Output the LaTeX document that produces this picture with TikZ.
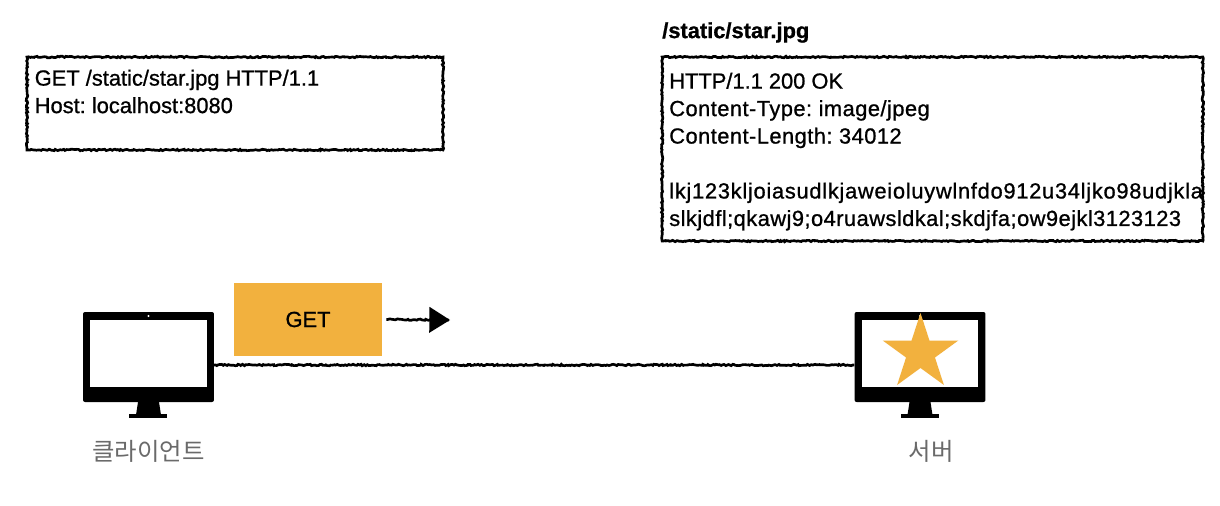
\documentclass[tikz,border=0pt]{standalone}
\usepackage{fontspec}
\setmainfont[FakeBold=0.9]{Liberation Sans}
\newfontfamily\widefont[FakeBold=0.9, LetterSpace=2.1]{Liberation Sans}
\newfontfamily\widerfont[FakeBold=0.9, LetterSpace=3.3]{Liberation Sans}
\newfontfamily\krfont{Noto Sans CJK KR}
\usetikzlibrary{arrows.meta,decorations.pathmorphing,shapes.geometric}
\definecolor{getorange}{HTML}{F2B13E}
\definecolor{labelgray}{HTML}{6A6A6A}
\tikzset{
    rough/.style={decorate, decoration={random steps, segment length=1.2pt, amplitude=0.55pt, pre length=1pt, post length=1pt}},
    msgbox/.style={draw, line width=2pt, rough, rectangle, inner sep=0pt},
    msgtext/.style={anchor=north west, align=left, inner sep=0pt, font=\frenchspacing\fontsize{16.4}{20.6}\selectfont},
    body/.style={rectangle, fill=black, rounded corners=1.5pt, minimum width=98.2pt, minimum height=67.5pt, inner sep=0pt},
    screen/.style={rectangle, fill=white, minimum width=87.6pt, minimum height=49.9pt, inner sep=0pt},
    hostlabel/.style={text=labelgray, font=\krfont\fontsize{18.3}{20}\selectfont, inner sep=0pt}
}
\begin{document}
\begin{tikzpicture}[x=0.75pt, y=-0.75pt]
    \useasboundingbox (0,0) rectangle (1220,506);

    % Request message
    \node[msgbox, minimum width=312pt, minimum height=69.7pt] (reqbox) at (235,103.5) {};
    \node[msgtext] (reqtext) at (34.5,69.5) {GET /static/star.jpg HTTP/1.1\\Host: localhost:8080};

    % Response message
    \node[anchor=west, inner sep=0pt, font=\bfseries\fontsize{16.4}{18}\selectfont] (restitle) at (662,32.5) {/static/star.jpg};
    \node[msgbox, minimum width=405.5pt, minimum height=138pt] (resbox) at (932.5,149) {};
    \node[msgtext] (restext) at (669,72.5) {HTTP/1.1 200 OK\\{\widefont Content-Type: image/jpeg}\\{\widefont Content-Length: 34012}\\[20.6pt]{\widerfont lkj123kljoiasudlkjaweioluywlnfdo912u34ljko98udjkla}\\{\widefont slkjdfl;qkawj9;o4ruawsldkal;skdjfa;ow9ejkl3123123}};

    % Client monitor
    \node[body] (client) at (148.5,357) {};
    \node[screen] (clientscreen) at (148.5,353.25) {};
    \fill[white] (148.5,316) circle (1.2);
    \fill (138,402) -- (159,402) -- (161,415) -- (136,415) -- cycle;
    \fill (129,414) rectangle (167,418);
    \node[hostlabel] (clientlabel) at (148.5,451) {클라이언트};

    % Server monitor
    \node[body] (server) at (920,357) {};
    \node[screen] (serverscreen) at (920,353.25) {};
    \fill[white] (920,316) circle (1.2);
    \fill (909.5,402) -- (930.5,402) -- (932.5,415) -- (907.5,415) -- cycle;
    \fill (900.5,414) rectangle (938.5,418);
    \node[hostlabel] (serverlabel) at (931,451) {서버};

    % Star on the server screen
    \node[star, star points=5, star point ratio=2.618, fill=getorange, minimum size=59.7pt, inner sep=0pt] (starimg) at (920.5,352.8) {};

    % Connection
    \draw[line width=2pt, rough] ([yshift=-6pt]client.east) -- ([yshift=-6pt]server.west);

    % Request packet
    \node[rectangle, fill=getorange, minimum width=111pt, minimum height=54.8pt, inner sep=0pt, font=\fontsize{16.4}{18}\selectfont] (getpkt) at (308,319.5) {GET};
    \coordinate (gettip) at (450,320);
    \draw[line width=2pt, rough, -{Triangle[length=15.5pt, width=19.5pt, line width=0pt]}] ([xshift=3pt]getpkt.east) -- (gettip);
\end{tikzpicture}
\end{document}
